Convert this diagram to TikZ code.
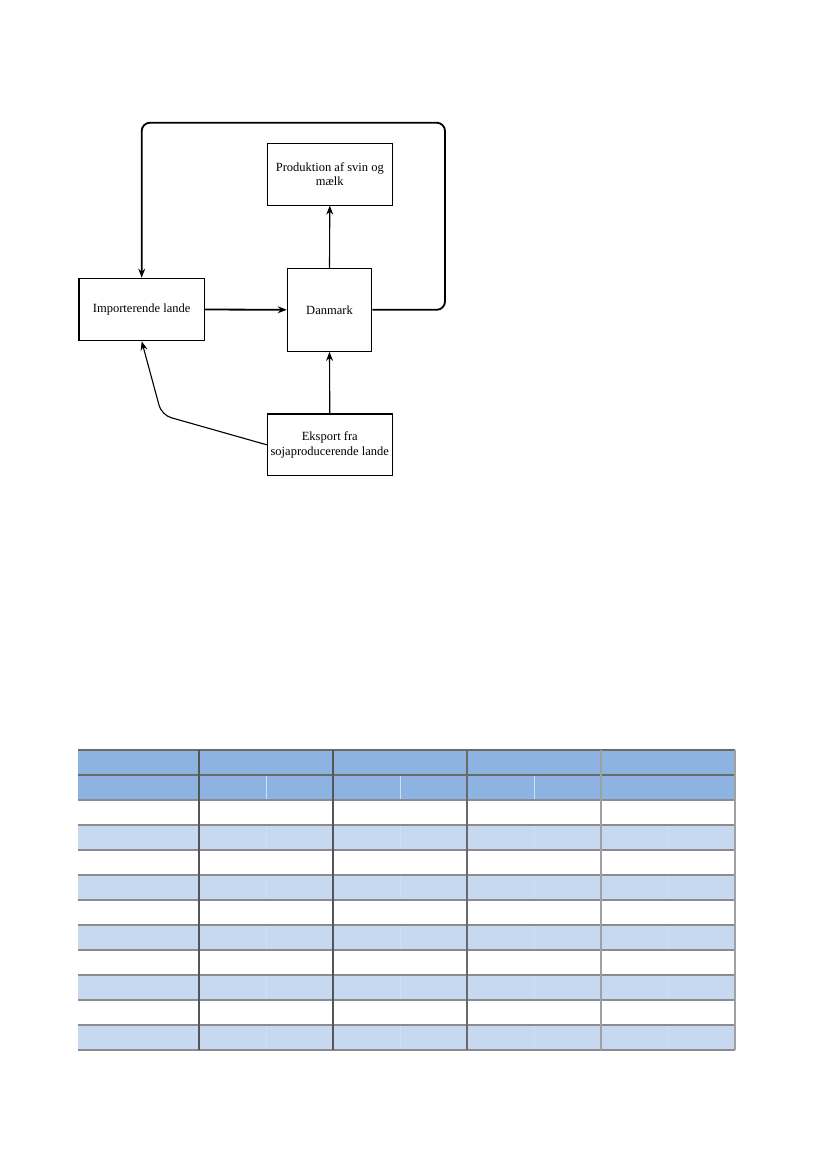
\documentclass[tikz,border=0pt]{standalone}
\usepackage{fontspec}
\setmainfont{Liberation Serif}
\usetikzlibrary{arrows.meta}
\definecolor{hdr}{HTML}{8DB3E2}
\definecolor{band}{HTML}{C6D9F1}
\definecolor{subline}{HTML}{D0DFF3}
\definecolor{hline}{HTML}{8C8C8C}
\definecolor{hdrline}{HTML}{6A6A6A}
\definecolor{vdark}{HTML}{555555}
\definecolor{vmid}{HTML}{696969}
\definecolor{vlight}{HTML}{A0A0A0}
\begin{document}
\begin{tikzpicture}[x=0.72pt,y=-0.72pt,
  box/.style={draw, line width=0.8pt, align=center, inner sep=0pt,
    font=\fontsize{9}{10.5}\selectfont},
  arr/.style={-{Stealth[length=6.5pt,width=5pt]}, line width=0.8pt},
  arrthick/.style={-{Stealth[length=6.5pt,width=5pt]}, line width=1.3pt}]
\useasboundingbox (0,0) rectangle (827,1169);

% ---------- diagram ----------
\node[box, minimum width={125*0.72pt}, minimum height={62.5*0.72pt}] (imp) at (141.7,309.5) {Importerende lande};
\node[box, minimum width={84.4*0.72pt}, minimum height={83*0.72pt}] (dk) at (329.5,309.8) {Danmark};
\node[box, minimum width={125*0.72pt}, minimum height={61.7*0.72pt}] (prod) at (329.8,174.2) {Produktion af svin og\\mælk};
\node[box, minimum width={125*0.72pt}, minimum height={61.7*0.72pt}] (eks) at (329.8,444.8) {Eksport fra\\sojaproducerende lande};
\draw[line width=1.4pt] (imp.north west) -- (imp.south west);

\coordinate (lr) at (445,122.7);
\coordinate (ll) at (141.7,122.7);
\coordinate (bend) at (161.7,415);

\draw[arrthick] (imp.east) -- (dk.west);
\draw[arr] (dk.north) -- (prod.south);
\draw[arr] (eks.north) -- (dk.south);
\draw[arrthick, rounded corners=6pt] (dk.east) -- (dk.east -| lr) -- (lr) -- (ll) -- (imp.north);
\draw[arr, rounded corners=7pt] (eks.west) -- (bend) -- (imp.south);

% ---------- table ----------
\fill[hdr] (78,750) rectangle (735,800);
\foreach \y in {825,875,925,975,1025} \fill[band] (78,\y) rectangle (735,\y+25);
\foreach \x in {266,400,534} \draw[subline, line width=0.5pt] (\x,775) -- (\x,800);
\foreach \x in {266,400,534,668} {
  \foreach \y in {825,875,925,975,1025} \draw[subline, line width=0.5pt] (\x,\y) -- (\x,\y+25);
}
\draw[hdrline, line width=0.9pt] (78,750) -- (735,750);
\draw[hdrline, line width=0.9pt] (78,775) -- (735,775);
\foreach \y in {800,825,...,1050} \draw[hline, line width=0.9pt] (78,\y) -- (735,\y);
\draw[vdark, line width=0.8pt] (199,750) -- (199,1050);
\draw[vdark, line width=0.8pt] (333,750) -- (333,1050);
\draw[vmid, line width=0.8pt] (467,750) -- (467,1050);
\draw[vlight, line width=0.8pt] (601,750) -- (601,1050);
\draw[vlight, line width=0.8pt] (735,750) -- (735,1050);
\end{tikzpicture}
\end{document}
